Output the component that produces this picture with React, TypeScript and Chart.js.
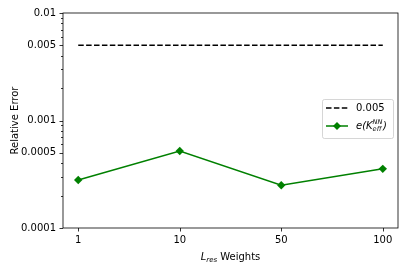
import React, { useEffect, useRef } from "react";
import { Chart, registerables } from "chart.js";

Chart.register(...registerables);

const categories = ["1", "10", "50", "100"];
const errorValues = [0.00028, 0.00052, 0.00025, 0.000355];
const thresholdValues = [0.005, 0.005, 0.005, 0.005];
const yTickValues = [0.0001, 0.0005, 0.001, 0.005, 0.01];
const yTickLabels = ["0.0001", "0.0005", "0.001", "0.005", "0.01"];
const thresholdLabel = "0.005";

const FONT = "'DejaVu Sans', sans-serif";
const FS = 10;
const GREEN = "#008000";
const DASH = [5.5, 2.4];

function drawDiamond(ctx: CanvasRenderingContext2D, x: number, y: number, r: number) {
  ctx.beginPath();
  ctx.moveTo(x, y - r);
  ctx.lineTo(x + r, y);
  ctx.lineTo(x, y + r);
  ctx.lineTo(x - r, y);
  ctx.closePath();
  ctx.fill();
}

const decorPlugin = {
  id: "decor",
  afterDraw(chart: any) {
    const ctx: CanvasRenderingContext2D = chart.ctx;
    const { left, right, top, bottom } = chart.chartArea;
    const xs = chart.scales.x;
    const ys = chart.scales.y;
    ctx.save();
    // frame
    ctx.strokeStyle = "#000";
    ctx.lineWidth = 0.8;
    ctx.strokeRect(left, top, right - left, bottom - top);
    // y ticks
    for (let d = -4; d <= -2; d++) {
      for (let m = 1; m <= 9; m++) {
        const v = m * Math.pow(10, d);
        if (v > 0.01 * 1.0001) break;
        const py = Math.round(ys.getPixelForValue(v)) + 0.5;
        const major = yTickValues.some((t) => Math.abs(t - v) / t < 1e-6);
        const len = major ? 3.5 : 2;
        ctx.beginPath();
        ctx.moveTo(left, py);
        ctx.lineTo(left - len, py);
        ctx.stroke();
      }
    }
    // x ticks
    categories.forEach((_, i) => {
      const px = Math.round(xs.getPixelForValue(i)) + 0.5;
      ctx.beginPath();
      ctx.moveTo(px, bottom);
      ctx.lineTo(px, bottom + 3.5);
      ctx.stroke();
    });

    // x title: L_res Weights
    ctx.fillStyle = "#000";
    ctx.textBaseline = "alphabetic";
    const cx = (left + right) / 2;
    const baseY = 260;
    ctx.font = `italic ${FS}px ${FONT}`;
    const wL = ctx.measureText("L").width;
    ctx.font = `italic ${FS * 0.7}px ${FONT}`;
    const wRes = ctx.measureText("res").width;
    ctx.font = `${FS}px ${FONT}`;
    const wW = ctx.measureText(" Weights").width;
    let x0 = cx - (wL + wRes + wW) / 2;
    ctx.textAlign = "left";
    ctx.font = `italic ${FS}px ${FONT}`;
    ctx.fillText("L", x0, baseY);
    x0 += wL;
    ctx.font = `italic ${FS * 0.7}px ${FONT}`;
    ctx.fillText("res", x0, baseY + 1.5);
    x0 += wRes;
    ctx.font = `${FS}px ${FONT}`;
    ctx.fillText(" Weights", x0, baseY);

    // y title
    ctx.save();
    ctx.translate(15, (top + bottom) / 2);
    ctx.rotate(-Math.PI / 2);
    ctx.textAlign = "center";
    ctx.textBaseline = "middle";
    ctx.font = `${FS}px ${FONT}`;
    ctx.fillText("Relative Error", 0, 0);
    ctx.restore();

    // legend
    const bx = 322, by = 99, bw = 71, bh = 39;
    ctx.beginPath();
    (ctx as any).roundRect(bx + 0.5, by + 0.5, bw, bh, 2);
    ctx.fillStyle = "rgba(255,255,255,0.8)";
    ctx.fill();
    ctx.strokeStyle = "rgba(204,204,204,0.8)";
    ctx.lineWidth = 1;
    ctx.stroke();
    const r1 = 108, r2 = 126;
    ctx.strokeStyle = "#000";
    ctx.lineWidth = 1.5;
    ctx.setLineDash(DASH);
    ctx.beginPath();
    ctx.moveTo(326, r1);
    ctx.lineTo(348, r1);
    ctx.stroke();
    ctx.setLineDash([]);
    ctx.strokeStyle = GREEN;
    ctx.beginPath();
    ctx.moveTo(326, r2);
    ctx.lineTo(348, r2);
    ctx.stroke();
    ctx.fillStyle = GREEN;
    drawDiamond(ctx, 337, r2, 4);
    ctx.fillStyle = "#000";
    ctx.textBaseline = "middle";
    ctx.textAlign = "left";
    ctx.font = `${FS}px ${FONT}`;
    ctx.fillText(thresholdLabel, 356, r1 + 0.5);
    // e(K_eff^NN)
    let lx = 356;
    ctx.font = `italic ${FS}px ${FONT}`;
    ctx.fillText("e(", lx, r2 + 0.5);
    lx += ctx.measureText("e(").width;
    ctx.fillText("K", lx, r2 + 0.5);
    lx += ctx.measureText("K").width;
    ctx.font = `italic ${FS * 0.66}px ${FONT}`;
    const wEff = ctx.measureText("eff").width;
    ctx.fillText("eff", lx, r2 + 3);
    ctx.fillText("NN", lx, r2 - 3.5);
    const wNN = ctx.measureText("NN").width;
    lx += Math.max(wEff, wNN) + 0.5;
    ctx.font = `italic ${FS}px ${FONT}`;
    ctx.fillText(")", lx, r2 + 0.5);
    ctx.restore();
  },
};

export default function App() {
  const ref = useRef<HTMLCanvasElement>(null);
  useEffect(() => {
    if (!ref.current) return;
    const chart = new Chart(ref.current, {
      type: "line",
      data: {
        datasets: [
          {
            label: thresholdLabel,
            data: thresholdValues.map((v, i) => ({ x: i, y: v })),
            borderColor: "#000",
            borderWidth: 1.5,
            borderDash: DASH,
            pointRadius: 0,
            fill: false,
          },
          {
            label: "e(K_eff^NN)",
            data: errorValues.map((v, i) => ({ x: i, y: v })),
            borderColor: GREEN,
            backgroundColor: GREEN,
            borderWidth: 1.5,
            pointStyle: "rectRot",
            pointRadius: 4.2,
            pointBorderWidth: 0,
            fill: false,
          },
        ],
      },
      options: {
        animation: false,
        responsive: false,
        maintainAspectRatio: false,
        layout: { padding: { top: 11, right: 6, left: 0, bottom: 0 } },
        plugins: { legend: { display: false }, tooltip: { enabled: false } },
        scales: {
          x: {
            type: "linear",
            min: -0.15,
            max: 3.15,
            afterBuildTicks: (s: any) => {
              s.ticks = categories.map((_, i) => ({ value: i }));
            },
            afterFit: (s: any) => {
              s.height = 42;
            },
            ticks: {
              callback: (v: any) => categories[v] ?? "",
              color: "#000",
              font: { family: FONT, size: FS },
              padding: 6,
              maxRotation: 0,
              autoSkip: false,
            },
            grid: { display: false, drawTicks: false },
            border: { display: false },
          },
          y: {
            type: "logarithmic",
            min: 0.0001,
            max: 0.01,
            afterBuildTicks: (s: any) => {
              s.ticks = yTickValues.map((v) => ({ value: v }));
            },
            afterFit: (s: any) => {
              s.width = 63;
            },
            ticks: {
              callback: (v: any) => {
                const i = yTickValues.findIndex((t) => Math.abs(t - v) / t < 1e-6);
                return i >= 0 ? yTickLabels[i] : "";
              },
              color: "#000",
              font: { family: FONT, size: FS },
              padding: 7,
              autoSkip: false,
            },
            grid: { display: false, drawTicks: false },
            border: { display: false },
          },
        },
      },
      plugins: [decorPlugin],
    } as any);
    return () => chart.destroy();
  }, []);
  return (
    <div style={{ position: "fixed", left: 0, top: 0, width: 404, height: 270, background: "#fff" }}>
      <canvas ref={ref} width={404} height={270} style={{ width: 404, height: 270 }} />
    </div>
  );
}
